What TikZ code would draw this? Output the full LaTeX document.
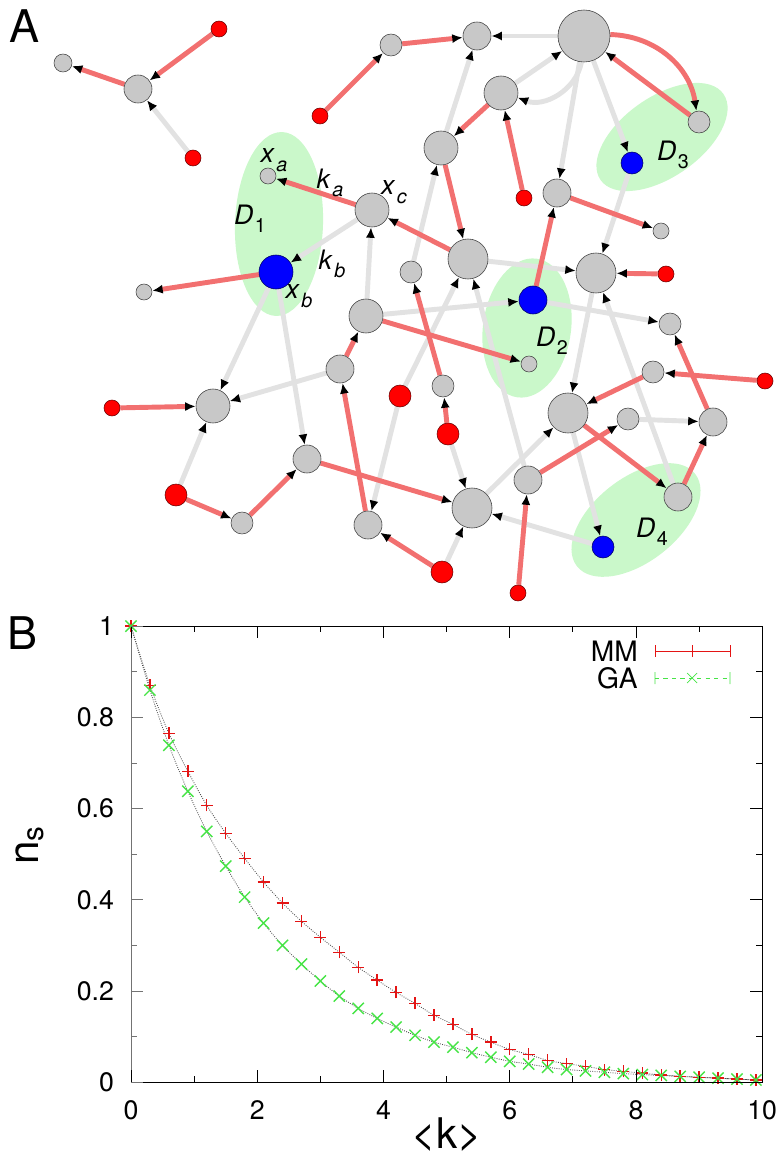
\documentclass[tikz,border=0pt]{standalone}
\usepackage{fontspec}
\setmainfont{TeX Gyre Heros}
\usetikzlibrary{arrows.meta}

\definecolor{edgered}{RGB}{242,112,112}
\definecolor{edgegray}{RGB}{226,226,226}
\definecolor{zonegreen}{RGB}{202,248,202}
\definecolor{nodegray}{RGB}{200,200,200}
\definecolor{mmred}{RGB}{228,20,20}
\definecolor{gagreen}{RGB}{70,228,70}

\pgfdeclarelayer{zones}
\pgfdeclarelayer{edges}
\pgfsetlayers{zones,edges,main}

\newcommand{\sublab}[2]{\textit{#1}\kern1pt\raisebox{-0.6ex}{\fontsize{14}{14}\selectfont #2}}

\begin{document}
\begin{tikzpicture}[x=0.025cm, y=-0.025cm,
    gnode/.style={circle, draw=black!75, line width=0.4pt, fill=nodegray,
      inner sep=0pt, minimum size=#1*0.05cm},
    rnode/.style={gnode=#1, fill=red, draw=black!60!red},
    bnode/.style={gnode=#1, fill=blue, draw=black!60!blue},
    gedge/.style={line width=3.5pt, draw=edgegray,
      -{Latex[length=7.5pt,width=6.5pt,color=black]}},
    redge/.style={gedge, draw=edgered},
    zone/.style={fill=zonegreen},
    netlab/.style={inner sep=0pt, font=\fontsize{19}{20}\selectfont},
    panel/.style={inner sep=0pt, font=\fontsize{32}{34}\selectfont},
    ticklab/.style={inner sep=0pt, font=\fontsize{19}{19}\selectfont},
    axlab/.style={inner sep=0pt, font=\fontsize{30}{31}\selectfont},
    fitline/.style={densely dotted, black!70, line width=0.6pt},
    mmmark/.style={draw=mmred, line width=1pt},
    gamark/.style={draw=gagreen, line width=1pt}]
  \useasboundingbox (0,0) rectangle (783,1161);

  % panel A: the network
  \node[panel] (pa) at (25,26) {A};

  \node[gnode=9]  (a1)  at (63,63) {};
  \node[gnode=14] (a2)  at (138,89) {};
  \node[rnode=8]  (r1)  at (219,29) {};
  \node[rnode=8]  (r2)  at (193,158) {};
  \node[rnode=8]  (r3)  at (320,116) {};
  \node[gnode=11] (b1)  at (391,45) {};
  \node[gnode=14] (b2)  at (477,36) {};
  \node[gnode=26] (hub) at (584,36) {};
  \node[gnode=17] (c2)  at (501,93) {};
  \node[gnode=17] (c3)  at (441,148) {};
  \node[rnode=8]  (r4)  at (524,198) {};
  \node[gnode=14] (c4)  at (557,193) {};
  \node[gnode=8]  (c5)  at (661,231) {};
  \node[gnode=11] (d3g) at (699,122) {};
  \node[bnode=11] (xd3) at (632,163) {};
  \node[gnode=8]  (xa)  at (268,176) {};
  \node[gnode=17] (xc)  at (372,210) {};
  \node[bnode=17] (xb)  at (276,272) {};
  \node[gnode=8]  (e1)  at (144,292) {};
  \node[gnode=20] (c7)  at (468,259) {};
  \node[gnode=20] (c6)  at (596,273) {};
  \node[rnode=8]  (r5)  at (666,274) {};
  \node[gnode=11] (m1)  at (411,272) {};
  \node[bnode=14] (xd2) at (533,300) {};
  \node[gnode=17] (m2)  at (366,316) {};
  \node[gnode=11] (m3)  at (670,324) {};
  \node[gnode=8]  (m4)  at (529,364) {};
  \node[gnode=14] (m5)  at (340,369) {};
  \node[gnode=11] (m6)  at (653,372) {};
  \node[rnode=8]  (r12) at (765,381) {};
  \node[gnode=11] (m7)  at (443,386) {};
  \node[rnode=11] (r8)  at (400,396) {};
  \node[gnode=17] (m8)  at (213,406) {};
  \node[rnode=8]  (r6)  at (112,408) {};
  \node[gnode=20] (m9)  at (568,413) {};
  \node[gnode=11] (m10) at (628,419) {};
  \node[gnode=14] (m11) at (713,422) {};
  \node[rnode=11] (r9)  at (448,434) {};
  \node[gnode=14] (m12) at (307,459) {};
  \node[gnode=14] (m13) at (528,480) {};
  \node[rnode=11] (r7)  at (176,495) {};
  \node[gnode=14] (m14) at (678,497) {};
  \node[gnode=20] (m15) at (472,508) {};
  \node[gnode=11] (m16) at (242,523) {};
  \node[gnode=14] (m17) at (368,525) {};
  \node[bnode=11] (xd4) at (603,547) {};
  \node[rnode=11] (r10) at (442,572) {};
  \node[rnode=8]  (r11) at (518,593) {};

  \begin{pgfonlayer}{zones}
    \fill[zone, rotate around={-2:(279,224)}] (279,224) ellipse (44 and 92);
    \fill[zone, rotate around={35:(662,137)}] (662,137) ellipse (75 and 40);
    \fill[zone, rotate around={-8:(527,328)}] (527,328) ellipse (44 and 70);
    \fill[zone, rotate around={38:(636,520)}] (636,520) ellipse (75 and 42);
  \end{pgfonlayer}

  \begin{pgfonlayer}{edges}
    \foreach \s/\t in {r2/a2, hub/b2, c2/hub, hub/c4, hub/xd3, c3/b2, m1/c3,
        xc/xb, m2/xc, c7/c6, xd3/c6, m2/xd2, xd2/m3, c6/m9, m14/c6, m10/m11,
        m9/xd4, m15/m9, xd4/m15, m13/c7, r8/c7, r8/m17, r9/m15, r10/m15,
        xb/m8, xb/m12, m5/m8, r7/m8}
      \draw[gedge] (\s) -- (\t);
    \draw[gedge] (hub) to[bend left=50] (c2);
    \foreach \s/\t in {a2/a1, r1/a2, r3/b1, b1/b2, xc/xa, xb/e1, c2/c3, r4/c2,
        c4/c5, d3g/hub, c3/c7, c7/xc, xd2/c4, r5/c6, m5/m2, m2/m4, m17/m5,
        m7/m1, r9/m7, r6/m8, r7/m16, m16/m12, m12/m15, r10/m17, r11/m13,
        m13/m10, m9/m14, m14/m11, m11/m3, r12/m6, m6/m9}
      \draw[redge] (\s) -- (\t);
    \draw[redge] (hub) to[bend left=40] (d3g);
  \end{pgfonlayer}

  \node[netlab] (lxa) at (274,160) {\sublab{x}{\textit{a}}};
  \node[netlab] (lka) at (330,183) {\sublab{k}{\textit{a}}};
  \node[netlab] (lxc) at (394,192) {\sublab{x}{\textit{c}}};
  \node[netlab] (lkb) at (332,264) {\sublab{k}{\textit{b}}};
  \node[netlab] (lxb) at (299,296) {\sublab{x}{\textit{b}}};
  \node[netlab] (ld1) at (250,219) {\sublab{D}{1}};
  \node[netlab] (ld3) at (673,155) {\sublab{D}{3}};
  \node[netlab] (ld2) at (552,341) {\sublab{D}{2}};
  \node[netlab] (ld4) at (652,532) {\sublab{D}{4}};

  % panel B: fraction of driver nodes
  \node[panel] (pb) at (23,633) {B};
  \node[axlab, rotate=90] (ylab) at (30,845) {n\textsubscript{s}};
  \node[axlab] (xlab) at (447,1135) {<k>};

  \begin{scope}[shift={(3.275cm,-27.05cm)}, x=1.5775cm, y=11.4cm]
    \draw[fitline] plot[smooth] coordinates {(0,1) (0.3,0.87) (0.6,0.765)
      (0.9,0.682) (1.2,0.607) (1.5,0.546) (1.8,0.491) (2.1,0.439) (2.4,0.393)
      (2.7,0.353) (3.0,0.318) (3.3,0.285) (3.6,0.252) (3.9,0.224) (4.2,0.197)
      (4.5,0.173) (4.8,0.147) (5.1,0.127) (5.4,0.105) (5.7,0.088) (6.0,0.072)
      (6.3,0.061) (6.6,0.048) (6.9,0.041) (7.2,0.035) (7.5,0.028) (7.8,0.024)
      (8.1,0.020) (8.4,0.016) (8.7,0.013) (9.0,0.011) (9.3,0.009) (9.6,0.007)
      (9.9,0.005)};
    \draw[fitline] plot[smooth] coordinates {(0,1) (0.3,0.86) (0.6,0.739)
      (0.9,0.638) (1.2,0.55) (1.5,0.474) (1.8,0.406) (2.1,0.349) (2.4,0.30)
      (2.7,0.259) (3.0,0.222) (3.3,0.189) (3.6,0.162) (3.9,0.14) (4.2,0.121)
      (4.5,0.103) (4.8,0.088) (5.1,0.077) (5.4,0.065) (5.7,0.055) (6.0,0.046)
      (6.3,0.040) (6.6,0.033) (6.9,0.028) (7.2,0.025) (7.5,0.022) (7.8,0.019)
      (8.1,0.017) (8.4,0.015) (8.7,0.013) (9.0,0.011) (9.3,0.009) (9.6,0.007)
      (9.9,0.005)};
    \foreach \k/\n in {0/1, 0.3/0.87, 0.6/0.765, 0.9/0.682, 1.2/0.607,
        1.5/0.546, 1.8/0.491, 2.1/0.439, 2.4/0.393, 2.7/0.353, 3.0/0.318,
        3.3/0.285, 3.6/0.252, 3.9/0.224, 4.2/0.197, 4.5/0.173, 4.8/0.147,
        5.1/0.127, 5.4/0.105, 5.7/0.088, 6.0/0.072, 6.3/0.061, 6.6/0.048,
        6.9/0.041, 7.2/0.035, 7.5/0.028, 7.8/0.024, 8.1/0.020, 8.4/0.016,
        8.7/0.013, 9.0/0.011, 9.3/0.009, 9.6/0.007, 9.9/0.005}
      \draw[mmmark] (\k,\n) +(-0.15cm,0pt) -- +(0.15cm,0pt)
                            +(0pt,-0.15cm) -- +(0pt,0.15cm);
    \foreach \k/\n in {0/1, 0.3/0.86, 0.6/0.739, 0.9/0.638, 1.2/0.55,
        1.5/0.474, 1.8/0.406, 2.1/0.349, 2.4/0.30, 2.7/0.259, 3.0/0.222,
        3.3/0.189, 3.6/0.162, 3.9/0.14, 4.2/0.121, 4.5/0.103, 4.8/0.088,
        5.1/0.077, 5.4/0.065, 5.7/0.055, 6.0/0.046, 6.3/0.040, 6.6/0.033,
        6.9/0.028, 7.2/0.025, 7.5/0.022, 7.8/0.019, 8.1/0.017, 8.4/0.015,
        8.7/0.013, 9.0/0.011, 9.3/0.009, 9.6/0.007, 9.9/0.005}
      \draw[gamark] (\k,\n) +(-0.14cm,-0.14cm) -- +(0.14cm,0.14cm)
                            +(-0.14cm,0.14cm) -- +(0.14cm,-0.14cm);

    \draw[line width=0.6pt] (0,0) rectangle (10,1);
    \draw[line width=0.6pt, black!55] (0,0) -- (0,1);
    \foreach \t [count=\i] in {0,2,4,6,8,10} {
      \draw[line width=0.6pt] (\t,0) -- ++(0pt,0.3cm) (\t,1) -- ++(0pt,-0.3cm);
      \node[ticklab, anchor=north] (xt\i) at ([yshift=-0.45cm]\t,0) {\t};
    }
    \foreach \t in {1,3,5,7,9}
      \draw[line width=0.6pt] (\t,0) -- ++(0pt,0.15cm) (\t,1) -- ++(0pt,-0.15cm);
    \foreach \v [count=\i] in {0,0.2,0.4,0.6,0.8,1} {
      \draw[line width=0.6pt, black!55] (0,\v) -- ++(0.3cm,0pt);
      \draw[line width=0.6pt] (10,\v) -- ++(-0.3cm,0pt);
      \node[ticklab, anchor=east] (yt\i) at ([xshift=-0.42cm]0,\v) {\v};
    }
    \foreach \v in {0.1,0.3,0.5,0.7,0.9} {
      \draw[line width=0.6pt, black!55] (0,\v) -- ++(0.15cm,0pt);
      \draw[line width=0.6pt] (10,\v) -- ++(-0.15cm,0pt);
    }
  \end{scope}

  % key
  \node[ticklab, anchor=east, font=\fontsize{20}{20}\selectfont] (kmm) at (638,651) {MM};
  \node[ticklab, anchor=east, font=\fontsize{20}{20}\selectfont] (kga) at (638,678) {GA};
  \draw[mmmark, line width=0.5pt] (655,651) -- (730,651)
    (655,645) -- (655,657) (730,645) -- (730,657) (692,645) -- (692,657);
  \draw[gamark, line width=0.5pt, dashed] (655,678) -- (730,678);
  \draw[gamark, line width=0.5pt] (655,672) -- (655,684) (730,672) -- (730,684)
    (687,673) -- (697,683) (687,683) -- (697,673);
\end{tikzpicture}
\end{document}
